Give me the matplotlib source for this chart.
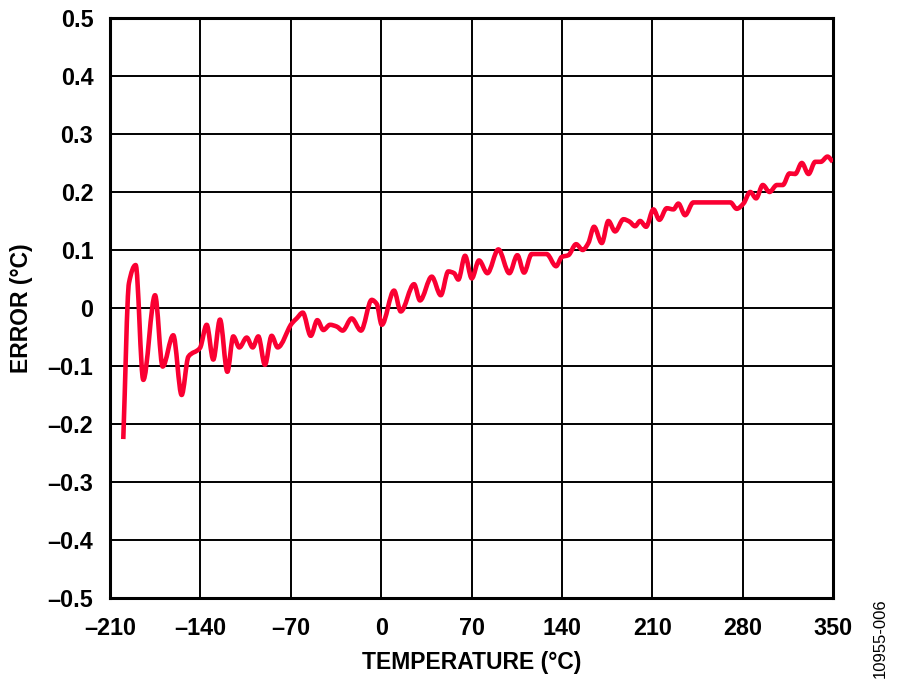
import matplotlib.pyplot as plt
import numpy as np
from matplotlib.path import Path
from matplotlib.patches import PathPatch

# readings taken off the reference curve
temp = [-199.7, -195.3, -190.1, -184.2, -175.1, -169.2, -161.0, -154.5, -149.3,
        -140.3, -135.1, -130.0, -124.8, -119.1, -114.5, -109.8, -104.1, -99.5,
        -95.1, -90.0, -84.8, -80.1, -69.3, -65.4, -60.7, -54.5, -49.4, -44.7,
        -39.6, -34.4, -29.8, -22.8, -15.6, -7.3, -3.4, 0.5, 10.0, 15.2, 25.5,
        30.1, 39.2, 46.2, 52.0, 56.5, 59.8, 65.0, 70.2, 75.8, 82.3, 90.8, 99.3,
        105.5, 110.7, 116.6, 128.2, 135.5, 139.9, 145.0, 151.0, 156.1, 160.5,
        164.9, 170.9, 176.0, 181.2, 187.7, 192.3, 196.7, 200.6, 205.2, 210.9,
        215.5, 221.2, 226.4, 230.2, 235.4, 241.8, 270.5, 275.4, 280.6, 285.9,
        290.4, 295.6, 300.8, 306.5, 311.1, 316.3, 320.7, 325.8, 331.0, 336.2,
        340.5, 345.7, 349.8]
error = [-0.226, 0.043, 0.074, -0.124, 0.022, -0.101, -0.047, -0.150, -0.084,
         -0.069, -0.029, -0.089, -0.020, -0.110, -0.049, -0.068, -0.051, -0.068,
         -0.049, -0.098, -0.048, -0.068, -0.027, -0.018, -0.008, -0.048, -0.021,
         -0.038, -0.029, -0.032, -0.039, -0.018, -0.039, 0.014, 0.007, -0.029,
         0.030, -0.006, 0.041, 0.013, 0.054, 0.022, 0.063, 0.060, 0.049, 0.090,
         0.051, 0.082, 0.060, 0.101, 0.060, 0.091, 0.061, 0.093, 0.093, 0.072,
         0.088, 0.091, 0.110, 0.100, 0.112, 0.140, 0.112, 0.150, 0.132, 0.153,
         0.149, 0.141, 0.150, 0.140, 0.170, 0.152, 0.172, 0.170, 0.180, 0.160,
         0.182, 0.182, 0.171, 0.180, 0.200, 0.189, 0.212, 0.200, 0.212, 0.212,
         0.232, 0.231, 0.250, 0.231, 0.252, 0.252, 0.261, 0.252]

x_ticks = [-210, -140, -70, 0, 70, 140, 210, 280, 350]
y_ticks = [-0.5, -0.4, -0.3, -0.2, -0.1, 0, 0.1, 0.2, 0.3, 0.4, 0.5]


def dash(v, fmt):
    s = fmt.format(abs(v))
    return ("\u2013" + s) if v < 0 else s


def smooth_path(x, y):
    # draw the readings as a smooth curve (monotone cubic segments as Bezier)
    x = np.asarray(x, float)
    y = np.asarray(y, float)
    h = np.diff(x)
    d = np.diff(y) / h
    m = np.zeros_like(y)
    for i in range(1, len(x) - 1):
        if d[i - 1] * d[i] > 0:
            w1 = 2 * h[i] + h[i - 1]
            w2 = h[i] + 2 * h[i - 1]
            m[i] = (w1 + w2) / (w1 / d[i - 1] + w2 / d[i])
    m[0] = d[0]
    m[-1] = d[-1]
    verts = [(x[0], y[0])]
    codes = [Path.MOVETO]
    for i in range(len(x) - 1):
        verts += [(x[i] + h[i] / 3, y[i] + m[i] * h[i] / 3),
                  (x[i + 1] - h[i] / 3, y[i + 1] - m[i + 1] * h[i] / 3),
                  (x[i + 1], y[i + 1])]
        codes += [Path.CURVE4] * 3
    return Path(verts, codes)


plt.rcParams['font.family'] = ['Liberation Sans', 'DejaVu Sans']

fig = plt.figure(figsize=(9, 6.86), dpi=100)
ax = fig.add_axes([0.1222, 0.1283, 0.8034, 0.8455])

ax.add_patch(PathPatch(smooth_path(temp, error), facecolor='none',
                       edgecolor='#fa0032', lw=3.3, joinstyle='round',
                       capstyle='butt', zorder=3))

ax.set_xlim(-210, 350)
ax.set_ylim(-0.5, 0.5)
ax.set_xticks(x_ticks)
ax.set_yticks(y_ticks)
ax.set_xticklabels([dash(v, "{:d}") for v in x_ticks])
ax.set_yticklabels(["0" if v == 0 else dash(v, "{:.1f}") for v in y_ticks])
ax.tick_params(length=0, labelsize=16.8)
ax.tick_params(axis='x', pad=14)
ax.tick_params(axis='y', pad=12)
for lab in ax.get_xticklabels() + ax.get_yticklabels():
    lab.set_fontweight('bold')

ax.grid(True, color='black', lw=1.4)
for sp in ax.spines.values():
    sp.set_linewidth(2.2)

ax.set_xlabel("TEMPERATURE (°C)", fontsize=16.5, fontweight='bold', va='center')
ax.set_ylabel("ERROR (°C)", fontsize=16.5, fontweight='bold', va='center')
ax.xaxis.set_label_coords(0.5, -0.112)
ax.yaxis.set_label_coords(-0.1217, 0.5)

fig.text(0.978, 0.069, "10955-006", rotation=90, fontsize=12,
         ha='center', va='center')

fig.savefig("out.png", dpi=100)
